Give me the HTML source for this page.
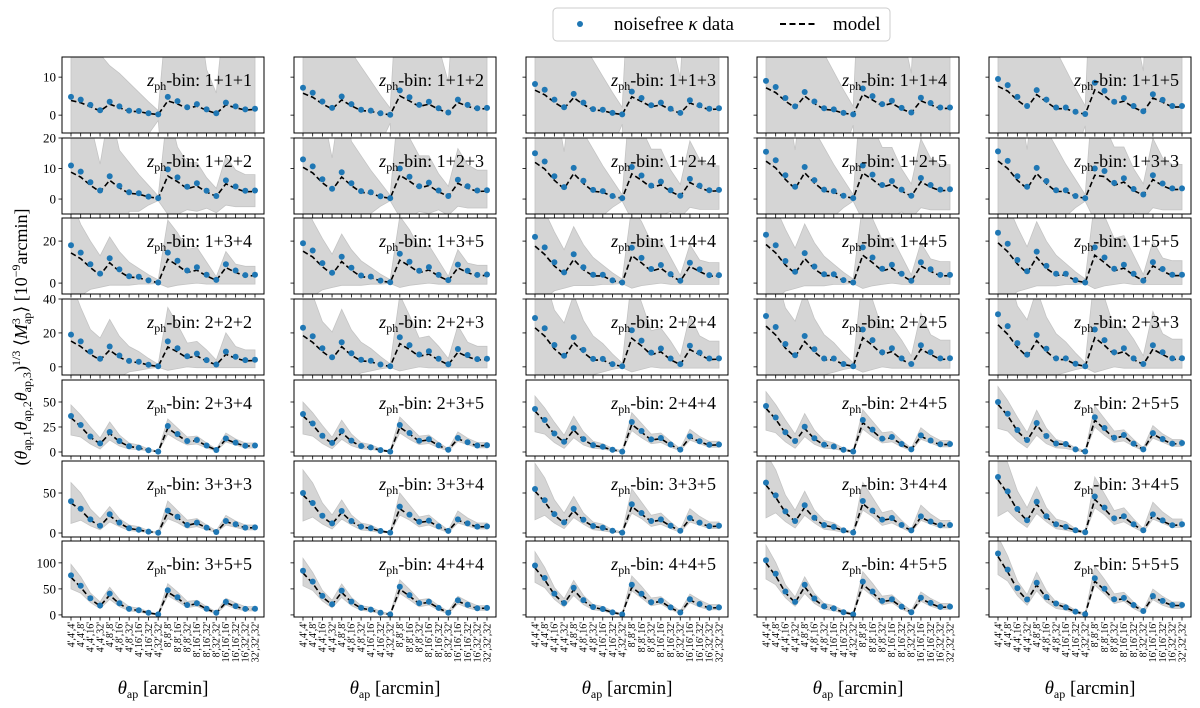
<!DOCTYPE html>
<html><head><meta charset="utf-8"><style>
html,body{margin:0;padding:0;background:#fff;}
svg{display:block;font-family:"Liberation Serif",serif;}
</style></head><body>
<svg id="fig" width="1200" height="708" viewBox="0 0 1200 708" xmlns="http://www.w3.org/2000/svg">
<g>
<rect x="553" y="8" width="337" height="33" rx="4" fill="#fff" stroke="#cccccc" stroke-width="1"/>
<circle cx="580" cy="24" r="3" fill="#1f77b4"/>
<text x="614" y="30" font-size="19">noisefree <tspan font-style="italic">κ</tspan> data</text>
<line x1="780" y1="24" x2="818" y2="24" stroke="#000" stroke-width="2" stroke-dasharray="6,3.5"/>
<text x="833" y="30" font-size="19">model</text>
</g>
<text transform="translate(27,337) rotate(-90)" text-anchor="middle" font-size="18">(<tspan font-style="italic">θ</tspan><tspan font-size="12" dy="4">ap,1</tspan><tspan font-style="italic" dy="-4">θ</tspan><tspan font-size="12" dy="4">ap,2</tspan><tspan font-style="italic" dy="-4">θ</tspan><tspan font-size="12" dy="4">ap,3</tspan><tspan dy="-4">)</tspan><tspan font-size="12" dy="-7">1/3</tspan><tspan dy="7"> ⟨</tspan><tspan font-style="italic">M</tspan><tspan font-size="12" dy="-7">3</tspan><tspan font-size="12" dx="-6" dy="11">ap</tspan><tspan dy="-4">⟩ [10</tspan><tspan font-size="12" dy="-7">−9</tspan><tspan dy="7">arcmin]</tspan></text>
<g id="panels"></g>
</svg>
<script>
const xTickLabels = ["4',4',4'","4',4',8'","4',4',16'","4',4',32'","4',8',8'","4',8',16'","4',8',32'","4',16',16'","4',16',32'","4',32',32'","8',8',8'","8',8',16'","8',8',32'","8',16',16'","8',16',32'","8',32',32'","16',16',16'","16',16',32'","16',32',32'","32',32',32'"];
const binLabels = [
["1+1+1","1+1+2","1+1+3","1+1+4","1+1+5"],
["1+2+2","1+2+3","1+2+4","1+2+5","1+3+3"],
["1+3+4","1+3+5","1+4+4","1+4+5","1+5+5"],
["2+2+2","2+2+3","2+2+4","2+2+5","2+3+3"],
["2+3+4","2+3+5","2+4+4","2+4+5","2+5+5"],
["3+3+3","3+3+4","3+3+5","3+4+4","3+4+5"],
["3+5+5","4+4+4","4+4+5","4+5+5","5+5+5"]];
const rowYMin = [-4.7,-4.9,-5.2,-4.8,-4,-5,-4];
const rowYMax = [15.3,20,31,40,72,90,142];
const rowYTicks = [[0,10],[0,10,20],[0,20],[0,20,40],[0,25,50],[0,50],[0,50,100]];
const row1Data = [
[4.8,4.1,2.7,1.3,3.5,2.3,1.2,1.1,0.5,0.2,4.8,3.7,2.1,2.9,1.5,0.5,3.3,2.3,1.5,1.7],
[7.2,5.9,3.6,1.9,4.9,2.9,1.4,1.2,0.5,0.1,6.5,4.7,2.7,3.5,1.8,0.7,4.1,2.7,1.8,1.9],
[8.2,6.7,4.1,2.1,5.6,3.3,1.6,1.4,0.6,0.2,6.2,4.5,2.6,3.3,1.7,0.6,3.9,2.6,1.7,1.8],
[9,7.4,4.5,2.3,6.1,3.6,1.8,1.5,0.6,0.2,7,5,2.9,3.8,1.9,0.7,4.6,3.2,2,2],
[9.5,7.9,4.8,2.4,6.6,4.1,2,2,0.9,0.3,8.5,6.4,3.5,4.5,2.4,1,5.5,4,2.4,2.4]];
const row2Data = [
[11,9,5.5,2.8,7.5,4.3,2.2,1.9,0.8,0.3,9.7,7.1,4,5.2,2.7,1,6.1,4.1,2.7,2.8],
[13,10.7,6.5,3.4,8.8,5.2,2.6,2.2,0.9,0.3,10,7.3,4.2,5.4,2.8,1,6.3,4.2,2.8,2.9],
[15,12.3,7.5,3.9,10.2,6,3,2.6,1,0.3,10.5,7.7,4.4,5.7,2.9,1.1,6.6,4.4,2.9,3],
[15.5,12.7,7.8,4,10.5,6.2,3.1,2.6,1.1,0.3,11,8,4.6,5.9,3.1,1.1,6.9,4.6,3.1,3.2],
[15.6,12.5,7.5,4,10.2,5.9,2.9,2.9,1,0.3,10,9.2,5.3,6.8,3.3,1.5,7.8,5.1,3.5,3.5]];
const row3Data = [
[18,14.5,9,4.5,11.8,6.5,3.3,3,1.3,0.3,14.5,10.6,6,7.5,4,1.5,9,6,3.8,4],
[19,15.5,9.5,4.9,12.5,7.3,3.6,3.1,1.2,0.4,14,10.2,5.9,7.6,3.9,1.4,8.8,5.9,3.9,4.1],
[22,17,9.9,5.1,13.7,7.5,4,4,1.3,0.3,16.8,12,6.7,8.6,4.3,1.1,9.7,6.5,3.8,3.8],
[23,18,10.5,5.4,14.3,7.9,4.2,4.2,1.4,0.3,17,12.2,6.8,8.7,4.4,1.1,9.9,6.6,3.9,3.9],
[24,18.7,11,5.6,15,8.2,4.4,4.4,1.4,0.3,17,12.2,6.8,8.7,4.4,1.2,10,6.7,4,4]];
const row4Data = [
[19,15,9,4.8,12,6.7,3.5,3,1.2,0.3,15,11,6.2,7.8,4,1.4,9,6,4,4.2],
[23,18,11,5.7,14.5,8,4.2,3.6,1.4,0.3,17.5,12.8,7.3,9.2,4.8,1.5,10.5,7,4.6,4.8],
[28.8,22.7,12.9,6.6,17.5,10,4.7,4.7,1.6,0.4,21.6,15.5,8.4,10.8,4.9,1.6,12.5,8.4,4.9,5],
[30,23.5,13.5,6.9,18.2,10.4,4.9,4.9,1.7,0.4,22,15.8,8.6,11,5,1.7,12.7,8.6,5,5.1],
[31,24,14,7.2,18.8,10.7,5,5,1.8,0.4,22,15.8,8.6,11,5,1.7,12.7,8.6,5,5.1]];
const row5Data = [
[36,27,15.5,8.6,20,11,5.8,4.3,1.8,0.4,26,18,11,12,6.5,2,13.5,9.4,6.2,6.5],
[38,28.5,16.3,9.1,21,11.4,6,4.6,1.9,0.4,27,19,11.3,12.7,6.8,2.2,14,9.7,6.5,6.8],
[43,32,18.5,10.3,23.7,12.9,6.9,5.2,2.2,0.4,30,21,12.6,14,7.5,2.4,15.6,10.8,7.2,7.5],
[46,34.5,19.8,11,25.3,13.8,7.4,5.5,2.3,0.5,32,22.4,13.4,15,8,2.6,16.6,11.5,7.7,8],
[50,38.3,22,12,29,16,8.5,8,2.6,0.5,34.7,24,14.2,17,8.4,2.6,18.9,13,8.4,9]];
const row6Data = [
[39.6,30.4,17,9,23.4,13,6,4,1.7,0.4,28,20.4,10,13,6.7,1.3,15,11,6.7,7],
[50,37.5,21.5,12,27.5,15,8,6,2.5,0.5,33,23,14,15.5,8.3,2.6,17,12,8,8.3],
[55,41,23.6,13.2,30,16.5,8.8,6.6,2.8,0.5,36,25,15,17,9,2.9,18.7,13,8.6,9],
[63,47,27,15,34.6,19,10,7.6,3.2,0.6,40,28,16.8,18.8,10,3.2,20.8,14.4,9.6,10],
[70,52,30,16,39,21,11,7.6,3.4,1,45.6,31.7,18.2,21,11,3.4,23.3,15.7,9.7,11]];
const row7Data = [
[76,56,32,18,41,22.5,11.5,9,4,1,47.5,34,19,22.5,12,4,25,17,11.5,12],
[85,64,36.5,20.4,46.8,25.5,13.6,10.2,4.3,0.9,54,38,22.7,25.4,13.5,4.3,28,19.4,13,13.5],
[95,71,41,22.8,52,28.5,15.2,11.4,4.8,1,58,40.6,24.4,27.3,14.5,4.6,30.2,20.9,13.9,14.5],
[105,79,45,25,58,31.5,16.8,12.6,5.3,1,64,45,27,30,16,5.1,33,23,15.4,16],
[118,87,51.5,29.6,61.7,34.5,22,14.5,6.3,1.5,70.4,50.4,30,32.6,19,7.5,36.4,27,19,19]];
const modelRatioLow = [0.8,0.8,0.82,0.85,0.82,0.85,0.85,0.85,0.85,0.8,0.78,0.8,0.85,0.82,0.85,0.85,0.82,0.85,0.88,0.9];
const modelRatioHigh = [0.95,0.95,0.95,0.95,0.93,0.95,0.95,0.95,0.95,0.9,0.92,0.95,0.95,0.95,0.95,0.95,0.95,0.95,0.95,0.95];
const row1BandHi = [30,30,30,16,13,11,8.5,6,3.5,1.2,30,30,30,30,12,5.8,30,30,30,30];
const row1BandLo = [-30,-30,-30,-30,-30,-30,-30,-30,-5,-1.4,-30,-30,-30,-30,-30,-30,-30,-30,-30,-30];
const row2BandHi = [30,30,25,11.4,30,16,12,8,4.5,1,30,17,12,12,7,3.5,14,9.5,8,8];
const row2BandLo = [-30,-30,-30,-30,-30,-30,-4,-4,-2,-0.5,-5,-5,-3.5,-4,-3,-4.5,-2,-2.5,-2.5,-2.5];
const row3BandHi = [40,28,20,13,22,15,10,7,4,1.5,30,24,16,17,10,3,15,9,8,8];
const row3BandLo = [-6,-6,-3,-2,-1,-1,-1,-0.5,-0.5,-0.2,-2,-1,-0.5,0,-0.5,-0.5,-0.5,-0.5,-0.5,-0.5];
const row4BandHi = [50,35,22,17,28,18,12,9,5,1.5,35,25,14,15,10,4,20,12,10,10];
const row4BandLo = [-6,-6,-6,-6,-6,-6,-3,-2,-1,-0.3,-2,-1,0,-0.5,-0.5,-0.5,-0.5,-0.5,-0.5,-0.5];
const row5BandHi = [47,37,25,14,30,17,9,7,3,1,33,24,15,16,9,3,19,13,9,9];
const row5BandLo = [17,15,8,3,12,6,3,2.5,1,0,18,12,7,8,4,1,10,7,4,4];
const row6BandHi = [63,50,30,18,33,18,10,8,3,1,40,28,16,18,10,3,22,15,10,10];
const row6BandLo = [12,16,9,4,14,8,3,2,0.5,0,18,13,6,8,4,0.5,10,7,4,4];
const row7BandHi = [97,73,42,25,53,30,16,13,6,2,60,44,26,28,16,6,32,23,16,16];
const row7BandLo = [50,42,24,12,30,16,8,6,2,0,37,26,14,17,8,2,19,12,8,8];
const bandScale = [
[1,1.5,1.7,1.9,2.0],[1,1.18,1.36,1.41,1.42],[1,1.06,1.22,1.28,1.33],
[1,1.21,1.52,1.58,1.63],[1,1.06,1.19,1.28,1.39],[1,1.25,1.38,1.58,1.75],[1,1.12,1.25,1.38,1.55]];

const rowData = [row1Data,row2Data,row3Data,row4Data,row5Data,row6Data,row7Data];
const rowBandHi = [row1BandHi,row2BandHi,row3BandHi,row4BandHi,row5BandHi,row6BandHi,row7BandHi];
const rowBandLo = [row1BandLo,row2BandLo,row3BandLo,row4BandLo,row5BandLo,row6BandLo,row7BandLo];

const NS = "http://www.w3.org/2000/svg";
const colLeft = [62,294,526,757,989];
const panelW = 202, panelH = 76;
const rowTop = [57,138,218,299,380,461,541];
const root = document.getElementById('panels');
function mk(tag, attrs, parent){
  const e = document.createElementNS(NS, tag);
  for (const k in attrs) e.setAttribute(k, attrs[k]);
  parent.appendChild(e);
  return e;
}
for (let r = 0; r < 7; r++) {
  for (let c = 0; c < 5; c++) {
    const L = colLeft[c], T = rowTop[r];
    const ymin = rowYMin[r], ymax = rowYMax[r];
    const xs = i => L + 9 + i * (panelW - 18) / 19;
    const ys = v => T + panelH - (v - ymin) / (ymax - ymin) * panelH;
    const g = mk('g', {}, root);
    
    
    const cid = 'clip' + r + '_' + c;
    const cp = mk('clipPath', {id: cid}, g);
    mk('rect', {x: L, y: T, width: panelW, height: panelH}, cp);
    const data = rowData[r][c];
    const ratio = r < 4 ? modelRatioLow : modelRatioHigh;
    const model = data.map((v, i) => v * ratio[i]);
    const sc = bandScale[r][c];
    const hi = rowBandHi[r].map(v => v * sc);
    const lo = rowBandLo[r].map(v => v * sc);
    const inner = mk('g', {'clip-path': 'url(#' + cid + ')'}, g);
    let d = '';
    for (let i = 0; i < 20; i++) d += (i ? 'L' : 'M') + xs(i).toFixed(1) + ',' + ys(hi[i]).toFixed(1);
    for (let i = 19; i >= 0; i--) d += 'L' + xs(i).toFixed(1) + ',' + ys(lo[i]).toFixed(1);
    const band = mk('path', {d: d + 'Z', fill: '#d5d5d5', stroke: '#c4c4c4', 'stroke-width': 0.8}, inner);
    
    
    let md = '';
    for (let i = 0; i < 20; i++) md += (i ? 'L' : 'M') + xs(i).toFixed(1) + ',' + ys(model[i]).toFixed(1);
    const ml = mk('path', {d: md, fill: 'none', stroke: '#000', 'stroke-width': 1.6, 'stroke-dasharray': '5.5,3'}, inner);
    
    
    for (let i = 0; i < 20; i++) {
      const p = mk('circle', {cx: xs(i).toFixed(1), cy: ys(data[i]).toFixed(1), r: 3, fill: '#1f77b4'}, g);
      
      
    }
    const fr = mk('rect', {x: L, y: T, width: panelW, height: panelH, fill: 'none', stroke: '#000', 'stroke-width': 1}, g);
    
    
    const lab = mk('text', {x: L + panelW - 12, y: T + 29, 'text-anchor': 'end', 'font-size': 18}, g);
    
    
    lab.innerHTML = '<tspan font-style="italic">z</tspan><tspan font-size="12" dy="4">ph</tspan><tspan dy="-4">-bin:  ' + binLabels[r][c] + '</tspan>';
    for (let i = 0; i < 20; i++) {
      const tk = mk('line', {x1: xs(i), x2: xs(i), y1: T + panelH, y2: T + panelH + 3.5, stroke: '#000', 'stroke-width': 0.8}, g);
      
      
    }
    rowYTicks[r].forEach(t => {
      const tk = mk('line', {x1: L - 3.5, x2: L, y1: ys(t), y2: ys(t), stroke: '#000', 'stroke-width': 0.8}, g);
      
      
      if (c === 0) {
        const tl = mk('text', {x: L - 6, y: ys(t) + 4.5, 'text-anchor': 'end', 'font-size': 13}, g);
        
        
        tl.textContent = t;
      }
    });
    if (r === 6) {
      for (let i = 0; i < 20; i++) {
        const tl = mk('text', {transform: 'translate(' + (xs(i) + 3.3).toFixed(1) + ',' + (T + panelH + 5) + ') rotate(-90)', 'text-anchor': 'end', 'font-size': 10}, g);
        
        
        tl.textContent = xTickLabels[i];
      }
      const xt = mk('text', {x: L + panelW / 2, y: 694, 'text-anchor': 'middle', 'font-size': 19}, g);
      
      
      xt.innerHTML = '<tspan font-style="italic">θ</tspan><tspan font-size="12" dy="4">ap</tspan><tspan dy="-4"> [arcmin]</tspan>';
    }
  }
}
</script>
</body></html>
